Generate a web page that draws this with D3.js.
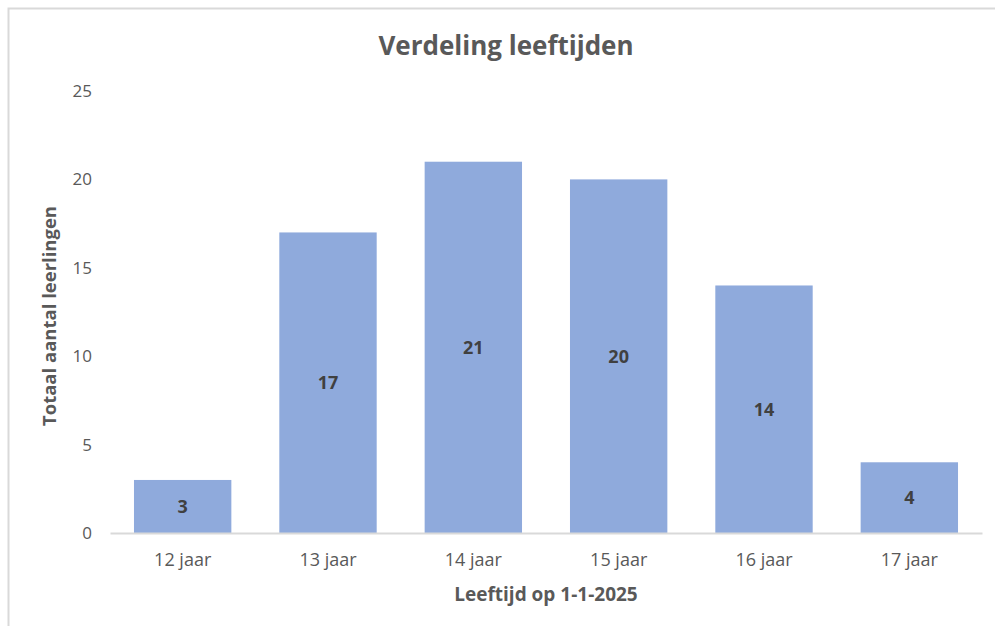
<!DOCTYPE html>
<html>
<head>
<meta charset="utf-8">
<script src="https://cdn.jsdelivr.net/npm/d3@7"></script>
<style>
  body { margin: 0; background: #fff; }
  text { font-family: "Open Sans", sans-serif; }
</style>
</head>
<body>
<script>
// data
var categories = ['12 jaar', '13 jaar', '14 jaar', '15 jaar', '16 jaar', '17 jaar']
var counts = [3, 17, 21, 20, 14, 4]
var yTicks = [0, 5, 10, 15, 20, 25]

var W = 995, H = 626
var margin = {top: 91, bottom: 93, left: 110, right: 13}
var width = W - margin.left - margin.right,
    height = H - margin.top - margin.bottom

var svg = d3.select('body').append('svg').attr('width', W).attr('height', H)

// outer frame (only top/left visible)
svg.append('rect').attr('x', 8.5).attr('y', 8.5).attr('width', W + 20).attr('height', H + 20)
  .attr('fill', 'none').attr('stroke', '#d9d9d9').attr('stroke-width', 2)

svg.append('text').attr('x', 506).attr('y', 55).attr('text-anchor', 'middle')
  .attr('fill', '#595959').attr('font-size', 26).attr('font-weight', 'bold')
  .text('Verdeling leeftijden')

var g = svg.append('g').attr('transform', 'translate(' + margin.left + ',' + margin.top + ')')

var x = d3.scaleBand().domain(categories).range([0, width]).paddingInner(0.33).paddingOuter(0.165)
var y = d3.scaleLinear().domain([0, 25]).range([height, 0])

// y tick labels (no axis line)
g.selectAll('.ytick').data(yTicks).enter().append('text')
  .attr('x', -18).attr('y', function(d) { return y(d) }).attr('dy', '0.35em')
  .attr('text-anchor', 'end').attr('fill', '#595959').attr('font-size', 17)
  .text(function(d) { return d })

// bars
g.selectAll('.bar').data(counts).enter().append('rect')
  .attr('x', function(d, i) { return x(categories[i]) })
  .attr('y', function(d) { return y(d) })
  .attr('width', x.bandwidth())
  .attr('height', function(d) { return height - y(d) })
  .attr('fill', '#8faadc')

// data labels in the middle of the bars
g.selectAll('.lbl').data(counts).enter().append('text')
  .attr('x', function(d, i) { return x(categories[i]) + x.bandwidth() / 2 })
  .attr('y', function(d) { return (y(d) + height) / 2 })
  .attr('dy', '0.35em').attr('text-anchor', 'middle')
  .attr('fill', '#404040').attr('font-size', 18).attr('font-weight', 'bold')
  .text(function(d) { return d })

// x axis
var xAxis = g.append('g').attr('transform', 'translate(0,' + height + ')')
  .call(d3.axisBottom(x).tickSize(0).tickPadding(20))
xAxis.select('.domain').attr('stroke', '#d9d9d9').attr('stroke-width', 2)
xAxis.selectAll('text').attr('fill', '#595959').attr('font-size', 18)
  .style('font-family', '"Open Sans", sans-serif')

g.append('text').attr('x', width / 2).attr('y', height + 68).attr('text-anchor', 'middle')
  .attr('fill', '#595959').attr('font-size', 19).attr('font-weight', 'bold')
  .text('Leeftijd op 1-1-2025')

g.append('text').attr('transform', 'rotate(-90)')
  .attr('x', -(H / 2 - margin.top) - 3).attr('y', -54)
  .attr('text-anchor', 'middle')
  .attr('fill', '#595959').attr('font-size', 18.5).attr('font-weight', 'bold')
  .text('Totaal aantal leerlingen')
</script>
</body>
</html>
